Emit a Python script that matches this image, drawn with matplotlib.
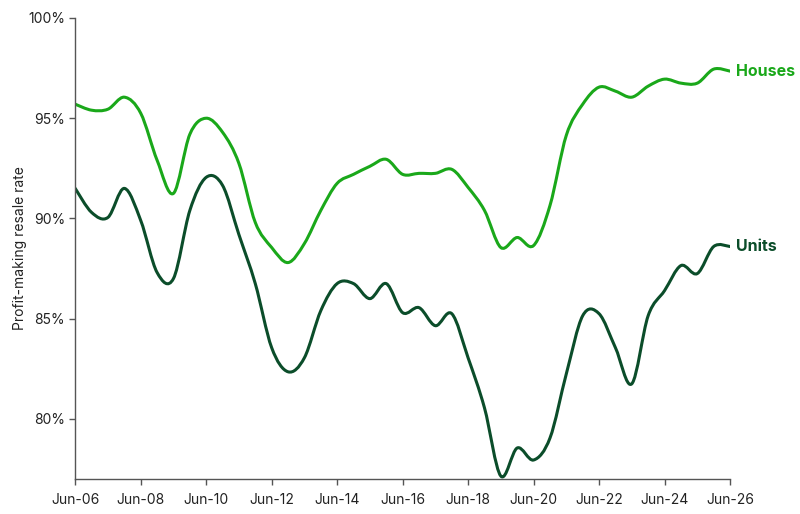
import numpy as np
import pandas as pd
import matplotlib
matplotlib.use("Agg")
import matplotlib.pyplot as plt
import matplotlib.dates as mdates
from matplotlib.path import Path
from matplotlib.patches import PathPatch
from matplotlib.ticker import FuncFormatter

# ==========================================
# Data (half-yearly, Jun-06 .. Jun-26)
# ==========================================
dates = pd.date_range("2006-06-01", "2026-06-01", freq="6MS")

houses = [95.7, 95.4, 95.45, 96.05, 95.25, 92.9, 91.25, 94.2, 95.0, 94.3,
          92.75, 89.8, 88.55, 87.8, 88.75, 90.4, 91.75, 92.2, 92.6, 92.95,
          92.2, 92.25, 92.25, 92.45, 91.55, 90.4, 88.55, 89.05, 88.65, 90.65,
          94.15, 95.7, 96.55, 96.35, 96.05, 96.6, 96.95, 96.75, 96.75, 97.45,
          97.35]

units = [91.5, 90.3, 90.05, 91.5, 89.9, 87.3, 87.0, 90.4, 92.05, 91.65,
         89.2, 86.75, 83.55, 82.35, 83.05, 85.4, 86.75, 86.75, 86.0, 86.75,
         85.3, 85.55, 84.65, 85.25, 83.05, 80.55, 77.15, 78.55, 77.95, 79.05,
         82.25, 85.15, 85.25, 83.55, 81.75, 85.15, 86.4, 87.65, 87.25, 88.6,
         88.6]

tick_dates = pd.date_range("2006-06-01", "2026-06-01", freq="24MS")

HOUSE_COLOR = "#1aa81a"
UNIT_COLOR = "#0b4d2a"

plt.rcParams["font.family"] = ["Inter", "DejaVu Sans"]


def smooth_path(x, y):
    # Catmull-Rom through the data points, drawn as cubic Bezier segments
    x = np.asarray(x, float)
    y = np.asarray(y, float)
    verts = [(x[0], y[0])]
    codes = [Path.MOVETO]
    n = len(x)
    for i in range(n - 1):
        p0 = (x[i - 1], y[i - 1]) if i > 0 else (x[i], y[i])
        p1 = (x[i], y[i])
        p2 = (x[i + 1], y[i + 1])
        p3 = (x[i + 2], y[i + 2]) if i + 2 < n else (x[i + 1], y[i + 1])
        c1 = (p1[0] + (p2[0] - p0[0]) / 6, p1[1] + (p2[1] - p0[1]) / 6)
        c2 = (p2[0] - (p3[0] - p1[0]) / 6, p2[1] - (p3[1] - p1[1]) / 6)
        verts += [c1, c2, p2]
        codes += [Path.CURVE4] * 3
    return Path(verts, codes)


fig = plt.figure(figsize=(8, 5.14), dpi=100)
ax = fig.add_axes([0.094, 0.068, 0.8185, 0.897])

xnum = mdates.date2num(dates)
for vals, col in [(houses, HOUSE_COLOR), (units, UNIT_COLOR)]:
    patch = PathPatch(smooth_path(xnum, vals), facecolor="none",
                      edgecolor=col, lw=2.2, capstyle="round",
                      joinstyle="round", transform=ax.transData)
    ax.add_patch(patch)

ax.set_xlim(mdates.date2num(dates[0]), mdates.date2num(dates[-1]))
ax.set_ylim(77, 100)

ax.set_yticks([80, 85, 90, 95, 100])
ax.yaxis.set_major_formatter(FuncFormatter(lambda v, p: f"{v:.0f}%"))
ax.set_xticks(mdates.date2num(tick_dates))
ax.xaxis.set_major_formatter(mdates.DateFormatter("%b-%y"))

for s in ["top", "right"]:
    ax.spines[s].set_visible(False)
for s in ["left", "bottom"]:
    ax.spines[s].set_color("#555555")
    ax.spines[s].set_linewidth(1.0)
ax.tick_params(axis="both", colors="#555555", labelcolor="#222222",
               labelsize=10, length=4, width=1)
ax.tick_params(axis="x", pad=6)

ax.set_ylabel("Profit-making resale rate", fontsize=10, color="#222222")
ax.yaxis.set_label_coords(-0.074, 0.5)

# end labels
ax.text(xnum[-1] + 70, houses[-1], "Houses", color=HOUSE_COLOR,
        fontsize=11.5, fontweight="bold", va="center", ha="left",
        clip_on=False)
ax.text(xnum[-1] + 70, units[-1], "Units", color=UNIT_COLOR,
        fontsize=11.5, fontweight="bold", va="center", ha="left",
        clip_on=False)

plt.savefig("out.png", dpi=100)
